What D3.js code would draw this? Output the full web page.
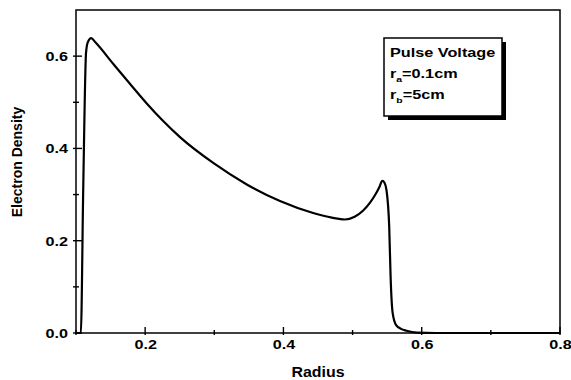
<!DOCTYPE html>
<html>
<head>
<meta charset="utf-8">
<script src="https://cdn.jsdelivr.net/npm/d3@7"></script>
<style>
  body { margin: 0; background: #fff; }
  svg { display: block; font-family: "Liberation Sans", Arial, sans-serif; }
</style>
</head>
<body>
<div id="chart"></div>
<script>
'use strict';

// radius (x) and electron density (y)
var radius = [0.100, 0.107, 0.1105, 0.1145, 0.117, 0.122, 0.128, 0.154, 0.178, 0.202,
    0.225, 0.250, 0.299, 0.347, 0.395, 0.443, 0.470, 0.489, 0.503, 0.515,
    0.525, 0.533, 0.539, 0.543, 0.546, 0.549, 0.553, 0.555, 0.558, 0.563,
    0.570, 0.578, 0.593, 0.620, 0.700, 0.800];
var density = [0, 0, 0.317, 0.607, 0.630, 0.639, 0.630, 0.583, 0.540, 0.498,
    0.461, 0.425, 0.368, 0.322, 0.286, 0.260, 0.250, 0.246, 0.252, 0.265,
    0.282, 0.300, 0.317, 0.330, 0.326, 0.310, 0.230, 0.122, 0.043, 0.017,
    0.009, 0.005, 0.001, 0, 0, 0];

var xMajor = [0.2, 0.4, 0.6, 0.8];
var xMinor = [0.1, 0.3, 0.5, 0.7];
var yMajor = [0.0, 0.2, 0.4, 0.6];
var yMinor = [0.1, 0.3, 0.5];

var legendLines = [
    { main: 'Pulse Voltage', sub: null, rest: '' },
    { main: 'r', sub: 'a', rest: '=0.1cm' },
    { main: 'r', sub: 'b', rest: '=5cm' }
];

var width = 571;
var height = 380;
var margin = { top: 10, right: 11, bottom: 47, left: 76 };

var x = d3.scaleLinear().domain([0.1, 0.8])
    .range([margin.left, width - margin.right]);
var y = d3.scaleLinear().domain([0, 0.7])
    .range([height - margin.bottom, margin.top]);

var svg = d3.select('#chart')
    .append('svg')
    .attr('width', width)
    .attr('height', height);

// curve
var line = d3.line()
    .x(function(d, i) { return x(radius[i]); })
    .y(function(d) { return y(d); })
    .curve(d3.curveMonotoneX);

svg.append('path')
    .datum(density)
    .attr('d', line)
    .attr('fill', 'none')
    .attr('stroke', '#000')
    .attr('stroke-width', 2.2)
    .attr('stroke-linejoin', 'round');

// tick marks, crossing the frame a little
function xTicks(values, len) {
    svg.append('g').selectAll('line')
        .data(values)
        .enter().append('line')
        .attr('x1', function(d) { return x(d); })
        .attr('x2', function(d) { return x(d); })
        .attr('y1', y(0) + 2)
        .attr('y2', y(0) - len)
        .attr('stroke', '#000')
        .attr('stroke-width', 1.4);
}
function yTicks(values, len) {
    svg.append('g').selectAll('line')
        .data(values)
        .enter().append('line')
        .attr('y1', function(d) { return y(d); })
        .attr('y2', function(d) { return y(d); })
        .attr('x1', x(0.1) - 3)
        .attr('x2', x(0.1) + len)
        .attr('stroke', '#000')
        .attr('stroke-width', 1.4);
}
xTicks(xMajor, 6);
xTicks(xMinor, 3);
yTicks(yMajor, 6);
yTicks(yMinor, 3);

// tick labels via axes (lines hidden)
var xAxis = svg.append('g')
    .attr('transform', 'translate(0,' + y(0) + ')')
    .call(d3.axisBottom(x).tickValues(xMajor).tickSize(0)
        .tickFormat(d3.format('.1f')));
xAxis.select('.domain').remove();
xAxis.selectAll('text')
    .attr('y', 16)
    .attr('dy', 0)
    .attr('transform', 'scale(1.35,1)');

var yAxis = svg.append('g')
    .attr('transform', 'translate(' + x(0.1) + ',0)')
    .call(d3.axisLeft(y).tickValues(yMajor).tickSize(0)
        .tickFormat(d3.format('.1f')));
yAxis.select('.domain').remove();
yAxis.selectAll('text')
    .attr('x', -8 / 1.35)
    .attr('dy', '0.36em')
    .attr('transform', 'scale(1.35,1)');

svg.selectAll('.tick text')
    .attr('fill', '#000')
    .style('font-size', '12px')
    .style('font-weight', 'bold');

// frame
svg.append('rect')
    .attr('x', x(0.1))
    .attr('y', y(0.7))
    .attr('width', x(0.8) - x(0.1))
    .attr('height', y(0) - y(0.7))
    .attr('fill', 'none')
    .attr('stroke', '#000')
    .attr('stroke-width', 1.5);

// axis titles
svg.append('text')
    .attr('transform', 'translate(' + ((x(0.1) + x(0.8)) / 2) + ',377) scale(1.14,1)')
    .attr('text-anchor', 'middle')
    .style('font-size', '14px')
    .style('font-weight', 'bold')
    .text('Radius');

svg.append('text')
    .attr('transform', 'translate(22,162) rotate(-90)')
    .attr('text-anchor', 'middle')
    .style('font-size', '14px')
    .style('font-weight', 'bold')
    .text('Electron Density');

// legend box with shadow
var lg = svg.append('g').attr('transform', 'translate(384,38)');
lg.append('rect')
    .attr('x', 4).attr('y', 4)
    .attr('width', 118).attr('height', 78)
    .attr('fill', '#000');
lg.append('rect')
    .attr('width', 118).attr('height', 78)
    .attr('fill', '#fff')
    .attr('stroke', '#000')
    .attr('stroke-width', 1.5);

var lt = lg.selectAll('.legend-line')
    .data(legendLines)
    .enter().append('text')
    .attr('class', 'legend-line')
    .attr('transform', function(d, i) {
        return 'translate(6,' + (19 + i * 21.2) + ') scale(1.3,1)';
    })
    .style('font-size', '12.5px')
    .style('font-weight', 'bold');

lt.append('tspan').text(function(d) { return d.main; });
lt.filter(function(d) { return d.sub; })
    .append('tspan')
    .attr('dy', 4)
    .style('font-size', '8px')
    .text(function(d) { return d.sub; });
lt.filter(function(d) { return d.sub; })
    .append('tspan')
    .attr('dy', -4)
    .text(function(d) { return d.rest; });
</script>
</body>
</html>
